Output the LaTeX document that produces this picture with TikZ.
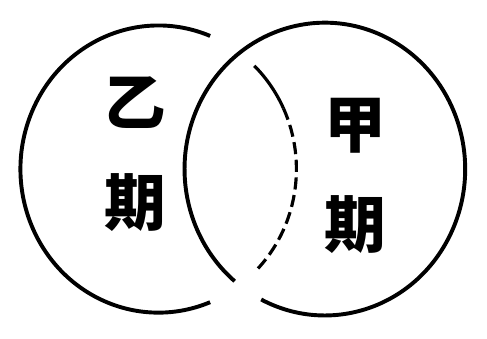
\documentclass[tikz,border=0pt]{standalone}
\usepackage{fontspec}
\newfontfamily\cjk{Noto Sans CJK SC}
\begin{document}
\begin{tikzpicture}[x=1pt, y=1pt,
  rim/.style={black, line width=4.2pt},
  hidden/.style={black, line width=3.4pt, dash pattern=on 13pt off 6pt},
  period/.style={font=\cjk\bfseries\fontsize{66}{107}\selectfont, align=center, inner sep=0pt}]
\path (0,0) rectangle (487,334);
\coordinate (yic) at (155,167);
\coordinate (jiac) at (333.5,167);
\draw[rim] (yic) ++(68:148 and 154) arc[start angle=68, end angle=292, x radius=148, y radius=154];
\draw[rim, line width=3.4pt] (yic) ++(46:148 and 154) arc[start angle=46, end angle=25, x radius=148, y radius=154];
\draw[hidden] (yic) ++(25:148 and 154) arc[start angle=25, end angle=-45, x radius=148, y radius=154];
\draw[rim] (jiac) ++(243:150.5 and 157) arc[start angle=243, end angle=590, x radius=150.5, y radius=157];
\node[period] (yiqi) at (130,183) {乙\\期};
\node[period] (jiaqi) at (366,160) {甲\\期};
\end{tikzpicture}
\end{document}
